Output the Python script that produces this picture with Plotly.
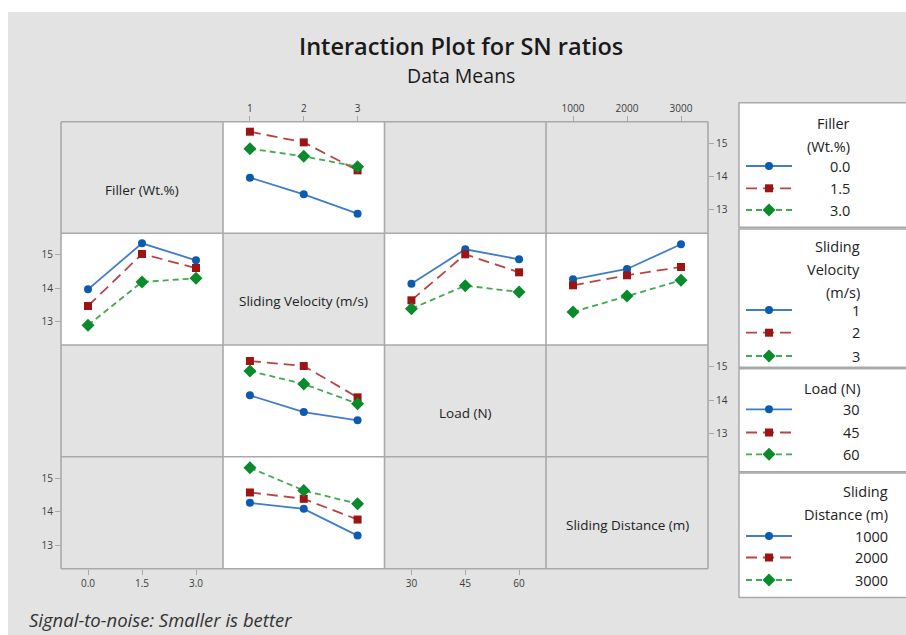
import plotly.graph_objects as go

# ---------------- data ----------------
filler_levels = [0.0, 1.5, 3.0]
velocity_levels = [1, 2, 3]
load_levels = [30, 45, 60]
distance_levels = [1000, 2000, 3000]

filler_ticktext = ["0.0", "1.5", "3.0"]
velocity_ticktext = ["1", "2", "3"]
load_ticktext = ["30", "45", "60"]
distance_ticktext = ["1000", "2000", "3000"]

# mean SN ratio, rows = filler level, cols = velocity level
sn_filler_velocity = [
    [13.97, 13.47, 12.89],
    [15.35, 15.03, 14.19],
    [14.84, 14.61, 14.30],
]
# rows = velocity level, cols = load level
sn_velocity_load = [
    [14.14, 15.17, 14.87],
    [13.64, 15.02, 14.48],
    [13.39, 14.08, 13.89],
]
# rows = velocity level, cols = distance level
sn_velocity_distance = [
    [14.27, 14.58, 15.32],
    [14.09, 14.39, 14.64],
    [13.29, 13.77, 14.24],
]

factor_names = ["Filler (Wt.%)", "Sliding Velocity (m/s)", "Load (N)", "Sliding Distance (m)"]
factor_levels = [filler_levels, velocity_levels, load_levels, distance_levels]
factor_ticktext = [filler_ticktext, velocity_ticktext, load_ticktext, distance_ticktext]
yticks = [13, 14, 15]

legend_titles = [["Filler", "(Wt.%)"], ["Sliding", "Velocity", "(m/s)"], ["Load (N)"],
                 ["Sliding", "Distance (m)"]]

# ---------------- styles ----------------
W, H = 906, 635
FONT = "Open Sans"
BG = "#e3e3e3"
GRID = "#a9a9a9"
TXT = "#222222"
TICKTXT = "#3c3c3c"
styles = [
    dict(line="#3f7dc8", marker="#0c5bb0", symbol="circle", size=8, dash="solid"),
    dict(line="#b84545", marker="#9c1414", symbol="square", size=8, dash="11px,6px"),
    dict(line="#43a84f", marker="#0a8a2c", symbol="diamond", size=10, dash="6px,4px"),
]


def px(x):
    return x / W


def py(y):
    return 1 - y / H


col_edges = [61, 223, 384.5, 546, 708]
row_edges = [121.7, 233.3, 345, 456.7, 568.7]

fig = go.Figure()
shapes = []
annotations = []

# background
shapes.append(dict(type="rect", xref="paper", yref="paper", x0=px(8), x1=1, y0=0, y1=py(12),
                   fillcolor=BG, line=dict(width=0), layer="below"))


def col(mat, j):
    return [row[j] for row in mat]


# panels: (row, col) -> list of y-series (one per level of the row factor)
panel_data = {
    (0, 1): [sn_filler_velocity[i] for i in range(3)],
    (1, 0): [col(sn_filler_velocity, i) for i in range(3)],
    (1, 2): [sn_velocity_load[i] for i in range(3)],
    (1, 3): [sn_velocity_distance[i] for i in range(3)],
    (2, 1): [col(sn_velocity_load, i) for i in range(3)],
    (3, 1): [col(sn_velocity_distance, i) for i in range(3)],
}

layout_axes = {}
for r in range(4):
    for c in range(4):
        k = r * 4 + c + 1
        xname = "xaxis" if k == 1 else f"xaxis{k}"
        yname = "yaxis" if k == 1 else f"yaxis{k}"
        xs = "x" if k == 1 else f"x{k}"
        ys = "y" if k == 1 else f"y{k}"
        lv = factor_levels[c]
        step = lv[1] - lv[0]
        xa = dict(domain=[px(col_edges[c]), px(col_edges[c + 1])], anchor=ys,
                  range=[lv[0] - step / 2, lv[-1] + step / 2], showgrid=False, zeroline=False,
                  showline=False, tickvals=lv, ticktext=factor_ticktext[c], ticks="",
                  showticklabels=False,
                  tickfont=dict(family=FONT, size=10, color=TICKTXT), fixedrange=True)
        ya = dict(domain=[py(row_edges[r + 1]), py(row_edges[r])], anchor=xs,
                  range=[12.3, 15.65], showgrid=False, zeroline=False,
                  showline=False, tickvals=yticks, ticks="", showticklabels=False,
                  tickfont=dict(family=FONT, size=10, color=TICKTXT), fixedrange=True)
        tk = dict(ticks="outside", ticklen=5, tickwidth=1.2, tickcolor=GRID, showticklabels=True)
        if r == 0 and c in (1, 3):
            xa.update(side="top", **tk)
        if r == 3 and c in (0, 2):
            xa.update(side="bottom", **tk)
        if c == 0 and r in (1, 3):
            ya.update(side="left", **tk)
        if c == 3 and r in (0, 2):
            ya.update(side="right", **tk)
        layout_axes[xname] = xa
        layout_axes[yname] = ya

        # empty trace so that every panel (and its ticks) is drawn
        fig.add_trace(go.Scatter(x=[None], y=[None], xaxis=xs, yaxis=ys, mode="markers",
                                 showlegend=False, hoverinfo="skip"))

        if (r, c) in panel_data:
            shapes.append(dict(type="rect", xref=f"{xs} domain", yref=f"{ys} domain",
                               x0=0, x1=1, y0=0, y1=1, fillcolor="white",
                               line=dict(width=0), layer="below"))
            for i, yv in enumerate(panel_data[(r, c)]):
                s = styles[i]
                fig.add_trace(go.Scatter(
                    x=lv, y=yv, xaxis=xs, yaxis=ys, mode="lines+markers",
                    line=dict(color=s["line"], width=1.8, dash=s["dash"]),
                    marker=dict(color=s["marker"], symbol=s["symbol"], size=s["size"]),
                    showlegend=False, hoverinfo="skip", cliponaxis=False))
        if r == c:
            annotations.append(dict(
                x=px((col_edges[c] + col_edges[c + 1]) / 2),
                y=py((row_edges[r] + row_edges[r + 1]) / 2 + 12),
                xref="paper", yref="paper", xanchor="center", yanchor="middle",
                text=factor_names[r], showarrow=False,
                font=dict(family=FONT, size=13.5, color=TXT)))

# panel frame lines (single shared borders)
for xe in col_edges:
    shapes.append(dict(type="line", xref="paper", yref="paper", x0=px(xe), x1=px(xe),
                       y0=py(row_edges[-1]), y1=py(row_edges[0]),
                       line=dict(color=GRID, width=1.6), layer="above"))
for ye in row_edges:
    shapes.append(dict(type="line", xref="paper", yref="paper", x0=px(col_edges[0]),
                       x1=px(col_edges[-1]), y0=py(ye), y1=py(ye),
                       line=dict(color=GRID, width=1.6), layer="above"))

# ---------------- legend blocks ----------------
legend_boxes = [(102.7, 227.3), (229, 367.3), (368.7, 471.7), (473, 597.5)]
legend_right = [852, 862, 862, 890]
legend_title_y = [[123.3, 146.7], [246.7, 269.5, 292.5], [388], [491, 514]]
legend_entry_y = [[166, 188.3, 210], [310, 332.7, 356], [409.3, 432.5, 454.3], [536, 557.5, 580]]
legend_labels = [filler_ticktext, velocity_ticktext, load_ticktext, distance_ticktext]

LX = 17
layout_axes[f"xaxis{LX}"] = dict(domain=[0, 1], range=[0, W], visible=False, fixedrange=True,
                                 anchor=f"y{LX}")
layout_axes[f"yaxis{LX}"] = dict(domain=[0, 1], range=[H, 0], visible=False, fixedrange=True,
                                 anchor=f"x{LX}")

for b, (y0, y1) in enumerate(legend_boxes):
    shapes.append(dict(type="rect", xref="paper", yref="paper", x0=px(739), x1=px(912),
                       y0=py(y1), y1=py(y0), fillcolor="white",
                       line=dict(color=GRID, width=1.5), layer="below"))
    for t, ty in zip(legend_titles[b], legend_title_y[b]):
        annotations.append(dict(x=px(legend_right[b]), y=py(ty), xref="paper", yref="paper",
                                xanchor="right", yanchor="middle", text=t, showarrow=False,
                                font=dict(family=FONT, size=14.5, color=TXT)))
    for i, ey in enumerate(legend_entry_y[b]):
        s = styles[i]
        annotations.append(dict(x=px(legend_right[b]), y=py(ey), xref="paper", yref="paper",
                                xanchor="right", yanchor="middle", text=legend_labels[b][i],
                                showarrow=False, font=dict(family=FONT, size=14.5, color=TXT)))
        fig.add_trace(go.Scatter(
            x=[746, 792], y=[ey, ey], xaxis=f"x{LX}", yaxis=f"y{LX}", mode="lines",
            line=dict(color=s["line"], width=1.8, dash=s["dash"]), showlegend=False,
            hoverinfo="skip"))
        fig.add_trace(go.Scatter(
            x=[769], y=[ey], xaxis=f"x{LX}", yaxis=f"y{LX}", mode="markers",
            marker=dict(color=s["marker"], symbol=s["symbol"], size=s["size"]),
            showlegend=False, hoverinfo="skip"))

# ---------------- titles ----------------
annotations.append(dict(x=px(461), y=py(46), xref="paper", yref="paper",
                        xanchor="center", yanchor="middle",
                        text="Interaction Plot for SN ratios", showarrow=False,
                        font=dict(family=FONT, size=23.5, color="#1a1a1a", weight=600)))
annotations.append(dict(x=px(461), y=py(75), xref="paper", yref="paper",
                        xanchor="center", yanchor="middle",
                        text="Data Means", showarrow=False,
                        font=dict(family=FONT, size=19.5, color="#1a1a1a")))
annotations.append(dict(x=px(27), y=py(619), xref="paper", yref="paper",
                        xanchor="left", yanchor="middle",
                        text="<i>Signal-to-noise: Smaller is better</i>", showarrow=False,
                        font=dict(family=FONT, size=18.5, color="#333333")))

fig.update_layout(
    width=W, height=H, margin=dict(l=0, r=0, t=0, b=0),
    paper_bgcolor="white", plot_bgcolor="rgba(0,0,0,0)",
    shapes=shapes, annotations=annotations, hovermode=False, showlegend=False,
    **layout_axes)

fig.write_html("out.html", config=dict(displayModeBar=False))
